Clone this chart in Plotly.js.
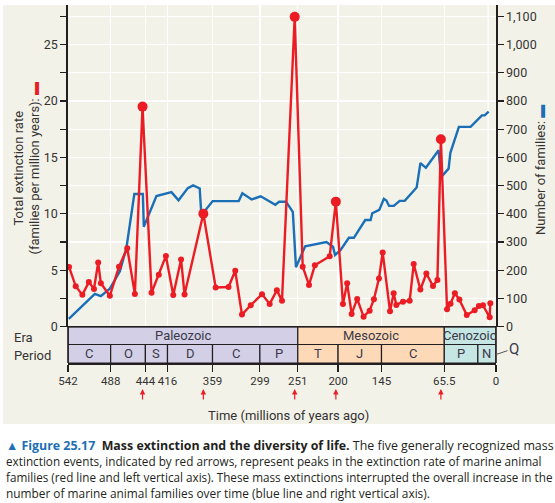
<!DOCTYPE html>
<html><head><meta charset="utf-8">
<script src="https://cdn.plot.ly/plotly-3.0.1.min.js"></script>
<style>html,body{margin:0;padding:0;background:#fff}#chart{width:555px;height:503px}</style>
</head><body><div id="chart"></div>
<script>
// ---------- data ----------
const extinctionTime = [540.7, 532.2, 523.8, 515.6, 509.1, 503.8, 500.4, 489, 477.4, 467, 457.3, 447.6, 436.2, 427, 418, 408.7, 398.8, 394.4, 370.6, 355, 338.7, 330.2, 321.7, 310.6, 296.3, 286.6, 277.5, 271, 254.9, 244.8, 236.8, 229.4, 210.6, 202.8, 193.8, 188.5, 182.8, 175.8, 167.7, 160, 154.6, 148.2, 143.5, 134.2, 129.6, 126.2, 117.8, 109.3, 104.2, 95.8, 88.2, 79.8, 74.2, 69.8, 62, 57.6, 52.1, 46.4, 37, 27, 21.7, 16.5, 8, 7.2];
const extinctionRate = [5.3, 3.58, 2.82, 3.95, 3.35, 5.68, 3.85, 2.74, 5.32, 6.96, 2.9, 19.5, 3.01, 4.6, 6.27, 2.81, 5.95, 2.85, 10.0, 3.48, 3.52, 4.95, 1.07, 1.9, 2.88, 2.02, 3.22, 2.31, 27.45, 5.32, 3.7, 5.44, 6.24, 11.08, 2.01, 3.85, 1.13, 2.46, 0.89, 1.42, 2.43, 4.26, 6.58, 1.36, 2.96, 1.93, 2.22, 2.3, 5.55, 3.29, 4.71, 3.61, 4.14, 16.6, 1.54, 2.04, 2.96, 2.4, 1.04, 1.45, 1.84, 1.9, 0.83, 2.07];
const familiesTime = [541, 508, 500.5, 489, 476.3, 468, 458, 447.2, 446, 439.6, 430, 411, 402, 390.3, 383.5, 375.2, 373.1, 358.8, 325.8, 321.2, 309.4, 298, 279.5, 274.6, 266, 257.3, 253.3, 241.6, 214.8, 206.4, 203.8, 197, 186.3, 180, 165.6, 158.8, 156.7, 147.8, 142, 138.8, 135.4, 129.4, 122, 115.6, 100.5, 95.7, 88.8, 72.7, 69.5, 60, 57.8, 47, 32.2, 17.8, 14.4, 9.3];
const familiesCount = [28, 116, 108, 135, 196, 280, 470, 470, 354, 398, 463, 477, 448, 491, 501, 490, 395, 445, 445, 473, 451, 462, 432, 443, 443, 407, 211, 285, 300, 283, 254, 271, 315, 315, 378, 378, 402, 414, 453, 447, 428, 428, 446, 446, 493, 580, 563, 625, 530, 560, 616, 708, 708, 749, 749, 762];
const massExtinctionTimes = [447.6, 370.6, 254.9, 202.8, 69.8];

const eraNames = ['Paleozoic', 'Mesozoic', 'Cenozoic'];
const eraStart = [542, 251, 65.5];
const eraEnd = [251, 65.5, 0];
const periodNames = ['C', 'O', 'S', 'D', 'C', 'P', 'T', 'J', 'C', 'P', 'N'];
const periodStart = [542, 488, 444, 416, 359, 299, 251, 200, 145, 65.5, 23];
const periodEnd = [488, 444, 416, 359, 299, 251, 200, 145, 65.5, 23, 0];
const timeTickVals = [542, 488, 444, 416, 359, 299, 251, 200, 145, 65.5, 0];
const timeTickText = ['542', '488', '444', '416', '359', '299', '251', '200', '145', '65.5', '0'];
const rateTickVals = [0, 5, 10, 15, 20, 25];

const captionLines = [
  "<b><span style='color:#1c6fb5'>\u25B2 Figure 25.17</span>\u00a0 Mass extinction and the diversity of life.</b> The five generally recognized mass",
  "extinction events, indicated by red arrows, represent peaks in the extinction rate of marine animal",
  "families (red line and left vertical axis). These mass extinctions interrupted the overall increase in the",
  "number of marine animal families over time (blue line and right vertical axis)."
];

// ---------- geometry / style ----------
const W = 555, H = 503;
const L = 68, R = 496, T = 5, B = 363;
const PLOT_BOTTOM = 326.7, ERA_BOTTOM = 344.5;
const px = v => (v - L) / (R - L);
const py = v => (B - v) / (B - T);
const FONT = 'Roboto, "Open Sans", sans-serif';
const CAPFONT = '"Open Sans", Roboto, sans-serif';
const CAPTION_BASE = 11.5;
const CAPTION_LINE_WIDTH = [548, 536, 547, 424];   // typeset width of each caption line (px)
const TXT = '#333333';
const RED = '#ec1c24', BLUE = '#1a6fb6';
const eraColors = ['#d3cfe7', '#fdd9b7', '#c6e6e4'];
const FRAME = '#231f20';

function eraIndexOf(s, e) {
  const mid = (s + e) / 2;
  for (let i = 0; i < eraNames.length; i++) if (mid <= eraStart[i] && mid >= eraEnd[i]) return i;
  return 0;
}

// ---------- traces ----------
const blue = {
  x: familiesTime, y: familiesCount, type: 'scatter', mode: 'lines',
  line: {color: BLUE, width: 2.4}, yaxis: 'y', xaxis: 'x', hoverinfo: 'skip'
};
const red = {
  x: extinctionTime, y: extinctionRate, type: 'scatter', mode: 'lines+markers',
  line: {color: RED, width: 2.4},
  marker: {color: RED, opacity: 1, line: {width: 0},
    size: extinctionTime.map(t => massExtinctionTimes.includes(t) ? 10 : 6)},
  yaxis: 'y2', xaxis: 'x', hoverinfo: 'skip'
};

// ---------- shapes ----------
const shapes = [];
shapes.push({type: 'rect', xref: 'paper', yref: 'paper', x0: px(3), x1: px(W), y0: py(424), y1: py(T),
  fillcolor: '#f3f2e9', line: {width: 0}, layer: 'below'});
shapes.push({type: 'line', xref: 'x', yref: 'y domain', x0: 10, x1: 10, y0: 0, y1: 1,
  line: {color: '#ffffff', width: 1.3}, layer: 'below'});
eraNames.forEach((n, i) => {
  shapes.push({type: 'rect', xref: 'x', yref: 'paper', x0: eraStart[i], x1: eraEnd[i],
    y0: py(ERA_BOTTOM), y1: py(PLOT_BOTTOM), fillcolor: eraColors[i], line: {color: FRAME, width: 1.2}});
});
periodNames.forEach((n, i) => {
  shapes.push({type: 'rect', xref: 'x', yref: 'paper', x0: periodStart[i], x1: periodEnd[i],
    y0: 0, y1: py(ERA_BOTTOM), fillcolor: eraColors[eraIndexOf(periodStart[i], periodEnd[i])],
    line: {color: FRAME, width: 1.2}});
});
[0, 1].forEach(xp => shapes.push({type: 'line', xref: 'paper', yref: 'paper', x0: xp, x1: xp,
  y0: 0, y1: py(PLOT_BOTTOM), line: {color: FRAME, width: 1.6}}));
shapes.push({type: 'line', xref: 'paper', yref: 'paper', x0: 0, x1: 1, y0: py(PLOT_BOTTOM), y1: py(PLOT_BOTTOM),
  line: {color: FRAME, width: 1.6}});

// ---------- annotations ----------
const ann = [];
const lab = (o) => Object.assign({showarrow: false, xanchor: 'center', yanchor: 'middle'}, o);
eraNames.forEach((n, i) => ann.push(lab({xref: 'x', yref: 'paper', x: (eraStart[i] + eraEnd[i]) / 2,
  y: py((PLOT_BOTTOM + ERA_BOTTOM) / 2), text: n, font: {family: FONT, size: 13, color: '#3a3a48'}})));
periodNames.forEach((n, i) => ann.push(lab({xref: 'x', yref: 'paper', x: (periodStart[i] + periodEnd[i]) / 2,
  y: py((ERA_BOTTOM + B) / 2), text: n, font: {family: FONT, size: 13, color: '#3a3a48'}})));
ann.push(lab({xref: 'paper', yref: 'paper', x: px(12), y: py(337), xanchor: 'left', text: 'Era',
  font: {family: FONT, size: 13, color: TXT}}));
ann.push(lab({xref: 'paper', yref: 'paper', x: px(12), y: py(355), xanchor: 'left', text: 'Period',
  font: {family: FONT, size: 13, color: TXT}}));
ann.push({xref: 'x', yref: 'paper', x: 0, y: py(354.5), text: 'Q', showarrow: true, arrowhead: 0,
  xanchor: 'center', yanchor: 'middle',
  arrowwidth: 1, arrowcolor: '#555', ax: 18, ay: -6, standoff: 0,
  font: {family: FONT, size: 15, color: '#3a3a48'}});
massExtinctionTimes.forEach(t => ann.push({xref: 'x', yref: 'paper', x: t, y: py(389), text: '',
  showarrow: true, arrowhead: 2, arrowsize: 0.9, arrowwidth: 1.2, arrowcolor: RED, ax: 0, ay: 12, standoff: 0}));
ann.push(lab({xref: 'paper', yref: 'paper', x: px(288), y: py(415), text: 'Time (millions of years ago)',
  font: {family: FONT, size: 13, color: TXT}}));
ann.push(lab({xref: 'paper', yref: 'paper', x: px(26.5), y: py(168), textangle: -90,
  text: "Total extinction rate<br>(families per million years): <span style='color:" + RED + "'>\u25AC</span>",
  font: {family: FONT, size: 13, color: TXT}}));
ann.push(lab({xref: 'paper', yref: 'paper', x: px(540), y: py(170), textangle: -90,
  text: "Number of families: <span style='color:" + BLUE + "'>\u25AC</span>",
  font: {family: FONT, size: 13, color: TXT}}));
const captionIndex = [];
captionLines.forEach((s, i) => {
  captionIndex.push(ann.length);
  ann.push(lab({xref: 'paper', yref: 'paper', x: px(4), y: py(445 + i * 16),
    xanchor: 'left', text: s, align: 'left',
    font: {family: CAPFONT, size: CAPTION_BASE, color: '#231f20'}}));
});

// ---------- layout ----------
const layout = {
  width: W, height: H,
  margin: {l: L, r: W - R, t: T, b: H - B, pad: 0},
  paper_bgcolor: '#ffffff', plot_bgcolor: '#e6e5d5',
  showlegend: false,
  font: {family: FONT, size: 12, color: TXT},
  xaxis: {
    range: [542, 0], anchor: 'free', position: 0, automargin: false,
    tickmode: 'array', tickvals: timeTickVals, ticktext: timeTickText, tickangle: 0,
    ticks: 'outside', ticklen: 7, tickwidth: 1.2, tickcolor: FRAME,
    showline: true, linecolor: FRAME, linewidth: 1.6,
    showgrid: true, gridcolor: '#ffffff', gridwidth: 1.3, zeroline: false,
    tickfont: {family: FONT, size: 11.5, color: TXT}
  },
  yaxis: {
    domain: [py(PLOT_BOTTOM), 1], range: [0, 1140], side: 'right', anchor: 'x', automargin: false,
    dtick: 100, tick0: 0, tickformat: ',d',
    ticks: 'outside', ticklen: 6, tickwidth: 1.2, tickcolor: FRAME,
    showline: true, linecolor: FRAME, linewidth: 1.6,
    showgrid: true, gridcolor: '#ffffff', gridwidth: 1.3, zeroline: false,
    tickfont: {family: FONT, size: 12.5, color: TXT}
  },
  yaxis2: {
    overlaying: 'y', side: 'left', range: [0, 28.5], anchor: 'x', automargin: false,
    tickmode: 'array', tickvals: rateTickVals,
    ticks: 'outside', ticklen: 6, tickwidth: 1.2, tickcolor: FRAME,
    minor: {dtick: 2.5, tick0: 0, ticks: 'outside', ticklen: 6, tickwidth: 1.2, tickcolor: FRAME, showgrid: false},
    showline: true, linecolor: FRAME, linewidth: 1.6,
    showgrid: false, zeroline: false,
    tickfont: {family: FONT, size: 12.5, color: TXT}
  },
  shapes: shapes,
  annotations: ann
};

// fit each caption line to its typeset width using the rendered text
Plotly.newPlot('chart', [blue, red], layout, {staticPlot: true, displayModeBar: false}).then(gd => {
  const upd = {};
  captionIndex.forEach((ai, i) => {
    const el = gd.querySelector('.annotation[data-index="' + ai + '"] .annotation-text');
    if (!el) return;
    const w = el.getBBox().width;
    if (!(w > 0)) return;
    const s = Math.max(10, Math.min(14, CAPTION_BASE * CAPTION_LINE_WIDTH[i] / w));
    upd['annotations[' + ai + '].font.size'] = Math.round(s * 100) / 100;
  });
  return Plotly.relayout(gd, upd);
});
</script>
</body></html>
